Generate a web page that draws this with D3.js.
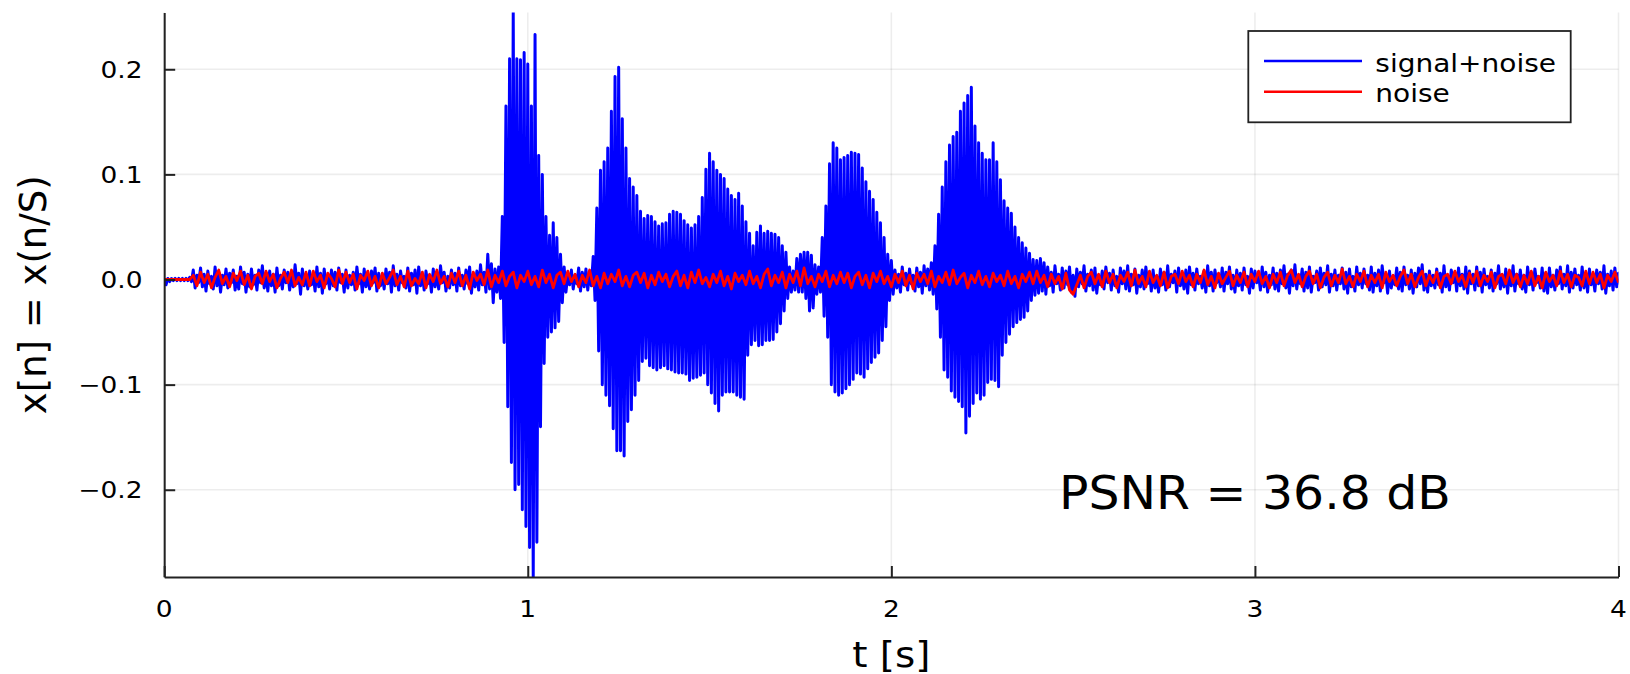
<!DOCTYPE html>
<html>
<head>
<meta charset="utf-8">
<script src="https://cdn.jsdelivr.net/npm/d3@7"></script>
<style>
  body { margin: 0; background: #fff; }
  text { font-family: 'DejaVu Sans', sans-serif; fill: #000; }
</style>
</head>
<body>
<svg id="chart" width="1630" height="674"></svg>
<script>
// samples are every 10 ms, values in units of 1e-3
const tStep = 0.01

// upper / lower swing of signal+noise in each 10 ms slot
const signalHi = [
  1, 1, 1, 1, 1, 1, 1, 2, 9, 4,
  11, 5, 8, 3, 12, 7, 4, 10, 6, 9,
  3, 12, 7, 5, 10, 4, 9, 13, 6, 8,
  5, 11, 4, 9, 7, 3, 14, 6, 10, 5,
  8, 4, 12, 6, 10, 3, 9, 7, 11, 5,
  9, 4, 7, 12, 5, 10, 3, 8, 11, 6,
  4, 10, 7, 13, 5, 8, 3, 11, 6, 9,
  12, 5, 8, 4, 10, 6, 13, 7, 3, 9,
  6, 11, 4, 9, 12, 5, 8, 14, 7, 24,
  15, 10, 12, 60, 165, 210, 254, 210, 209, 216,
  205, 165, 233, 118, 100, 60, 42, 54, 40, 24,
  12, 5, 9, 4, 11, 7, 10, 6, 22, 68,
  104, 112, 125, 160, 193, 202, 153, 125, 96, 88,
  80, 65, 58, 61, 60, 55, 51, 53, 54, 62,
  65, 64, 62, 56, 52, 49, 52, 60, 78, 105,
  120, 112, 104, 100, 96, 86, 80, 76, 82, 70,
  55, 44, 32, 45, 51, 44, 46, 44, 43, 40,
  32, 26, 12, 8, 20, 24, 26, 26, 23, 14,
  12, 40, 70, 110, 130, 125, 114, 116, 118, 121,
  120, 119, 106, 93, 84, 76, 64, 54, 40, 24,
  18, 9, 5, 12, 6, 10, 4, 11, 7, 13,
  10, 16, 32, 62, 88, 112, 128, 136, 140, 160,
  168, 175, 183, 146, 130, 120, 114, 114, 130, 112,
  95, 75, 68, 63, 50, 40, 35, 30, 25, 19,
  18, 20, 16, 12, 7, 13, 5, 11, 8, 12,
  4, 10, 7, 13, 5, 9, 11, 4, 8, 12,
  6, 9, 3, 11, 8, 13, 5, 10, 4, 9,
  12, 6, 9, 3, 10, 7, 13, 5, 8, 11,
  4, 9, 12, 6, 10, 3, 8, 13, 7, 9,
  5, 11, 7, 12, 4, 9, 6, 11, 3, 10,
  8, 5, 12, 7, 4, 11, 6, 9, 13, 5,
  9, 14, 4, 10, 7, 12, 3, 8, 11, 6,
  13, 5, 9, 4, 11, 7, 10, 3, 12, 6,
  10, 4, 12, 6, 9, 13, 5, 8, 3, 11,
  7, 12, 4, 9, 6, 11, 14, 5, 8, 4,
  10, 6, 13, 4, 9, 7, 11, 5, 12, 8,
  5, 12, 7, 10, 3, 9, 6, 13, 4, 10,
  8, 13, 5, 9, 4, 12, 7, 10, 3, 11,
  6, 11, 4, 9, 12, 5, 13, 7, 10, 4,
  12, 6, 10, 3, 9, 7, 13, 5, 8, 11,
  6,
]

const signalLo = [
  -5, -2, -1, -1, -1, -1, -1, -2, -8, -3,
  -7, -11, -4, -9, -6, -12, -5, -8, -3, -10,
  -9, -4, -12, -7, -5, -10, -3, -8, -11, -6,
  -12, -6, -9, -3, -10, -7, -4, -14, -6, -9,
  -5, -11, -7, -13, -4, -9, -6, -10, -3, -12,
  -8, -5, -10, -4, -12, -7, -9, -3, -11, -6,
  -9, -4, -12, -6, -10, -3, -8, -11, -5, -13,
  -6, -10, -4, -12, -7, -9, -3, -11, -8, -5,
  -11, -6, -9, -4, -13, -7, -10, -5, -12, -9,
  -22, -12, -18, -60, -121, -174, -200, -195, -219, -235,
  -255, -283, -250, -140, -80, -55, -50, -46, -40, -22,
  -12, -5, -9, -4, -11, -7, -10, -6, -20, -68,
  -100, -110, -120, -142, -163, -163, -168, -135, -124, -110,
  -96, -78, -75, -82, -84, -86, -84, -82, -85, -86,
  -88, -89, -89, -90, -96, -94, -93, -91, -89, -100,
  -108, -118, -125, -110, -107, -107, -107, -110, -112, -114,
  -72, -62, -58, -63, -62, -58, -58, -57, -50, -42,
  -30, -18, -12, -10, -12, -12, -18, -30, -27, -14,
  -12, -35, -55, -100, -107, -110, -108, -104, -100, -95,
  -89, -90, -93, -85, -79, -74, -70, -58, -45, -20,
  -14, -8, -12, -5, -10, -4, -11, -7, -13, -6,
  -10, -14, -28, -55, -86, -93, -106, -112, -116, -121,
  -146, -130, -118, -108, -114, -110, -98, -95, -96, -102,
  -72, -60, -52, -45, -41, -38, -36, -30, -20, -15,
  -13, -11, -14, -6, -12, -4, -10, -8, -5, -12,
  -16, -7, -4, -11, -6, -10, -13, -5, -9, -3,
  -10, -6, -12, -4, -9, -11, -5, -13, -7, -9,
  -4, -11, -8, -12, -5, -10, -7, -3, -12, -6,
  -9, -13, -5, -10, -4, -8, -12, -6, -11, -3,
  -7, -11, -4, -9, -12, -6, -10, -5, -13, -8,
  -3, -10, -7, -12, -5, -9, -11, -4, -8, -13,
  -6, -9, -4, -11, -8, -12, -3, -10, -7, -5,
  -12, -6, -10, -4, -9, -13, -7, -11, -5, -8,
  -4, -10, -12, -6, -11, -3, -13, -8, -5, -9,
  -11, -5, -9, -13, -7, -4, -10, -12, -6, -8,
  -5, -12, -7, -10, -3, -11, -6, -9, -13, -4,
  -10, -6, -12, -5, -8, -11, -4, -9, -7, -13,
  -6, -11, -4, -9, -12, -5, -10, -3, -8, -11,
  -13, -7, -10, -4, -9, -6, -12, -8, -5, -10,
  -8, -12, -5, -11, -4, -9, -13, -6, -10, -7,
  -5,
]

// the red noise trace
const noise = [
  0, 0, 0, 0, 0, 0, 0, 0, 4, -6,
  7, -3, 5, -8, 2, 9, -4, 3, -7, 6,
  -1, 8, -5, 4, -9, 3, 6, -4, 8, -2,
  5, -8, 1, 7, -3, 9, -6, 2, -5, 7,
  -6, 8, -2, 4, -8, 6, 1, -7, 9, -4,
  7, -3, 5, -9, 4, -1, 8, -6, 3, -8,
  6, -4, 2, 9, -5, 3, -7, 8, -6, 1,
  -4, 7, -8, 5, -2, 9, -4, 3, -7, 6,
  -3, 8, -6, 4, -9, 7, -1, 5, -5, 9,
  -7, 4, -3, 8, -6, 3, 7, -8, 4, -2,
  8, -5, 3, -7, 9, -3, 5, -8, 4, 7,
  -4, 8, -2, 5, -7, 4, -3, 9, -6, 3,
  -8, 6, -4, 5, -2, 9, -6, 3, -7, 4,
  7, -3, 6, -8, 4, -5, 7, -2, 5, -7,
  3, 8, -6, 4, -8, 7, -3, 9, -4, 2,
  -7, 5, -3, 8, -6, 3, -9, 6, -2, 4,
  -5, 8, -4, 3, -8, 5, 10, -6, 4, -3,
  7, -8, 5, -3, 8, -6, 11, -4, 3, -7,
  5, -2, 8, -7, 4, -4, 7, -3, 6, -8,
  3, 7, -5, 4, -8, 6, -2, 8, -4, 3,
  -7, 5, -3, 8, -6, 4, -9, 6, -2, 5,
  -4, 8, -7, 3, -3, 7, -5, 9, -4, 2,
  6, -8, 4, -3, 8, -5, 3, -7, 6, -2,
  4, -6, 8, -4, 3, -8, 5, -2, 7, -4,
  8, -3, 4, -7, 5, -4, 3, -9, 6, -10,
  -14, -5, 4, -8, 3, 7, -4, 5, -7, 8,
  -3, 5, -8, 4, -2, 7, -6, 9, -4, 3,
  -7, 8, -3, 4, -6, 7, -8, 3, 5, -4,
  8, -2, 4, -7, 5, -3, 9, -5, 3, -8,
  6, -4, 2, 8, -6, 4, -3, 7, -7, 5,
  -2, 8, -4, 3, -8, 5, -3, 7, -6, 4,
  9, -3, 5, -7, 3, 8, -4, 5, -8, 2,
  7, -6, 4, -3, 10, -4, 3, -7, 5, -2,
  8, -7, 4, -3, 5, -8, 7, -2, 4, -6,
  3, 9, -4, 5, -7, 2, 8, -6, 4, -3,
  7, -8, 3, 5, -4, 8, -2, 4, -7, 6,
  -3, 8, -6, 4, -2, 7, -8, 3, 5, -4,
  9, -3, 5, -7, 4, -4, 8, -6, 3, -8,
  7, -2, 4, -6, 8, -3, 5, -7, 4, 2,
  -6, 8, -4, 7, -3, 5, -8, 4, -2, 7,
  -3,
]

const xTicks = [0, 1, 2, 3, 4]
const yTicks = [-0.2, -0.1, 0, 0.1, 0.2]
const seriesNames = ['signal+noise', 'noise']
const seriesColors = ['#0000ff', '#ff0000']
const noteT = 3
const noteV = -0.2
const noteText = 'PSNR = 36.8 dB'

if (signalHi.length !== signalLo.length || noise.length !== signalHi.length) {
  console.warn('sample arrays differ in length', signalHi.length, signalLo.length, noise.length)
}

const svg = d3.select('#chart')
const plotLeft = 164.2
const plotRight = 1618.5
const plotTop = 12.5
const plotBottom = 577

const x = d3.scaleLinear([0, 4], [plotLeft, plotRight])
const y = d3.scaleLinear([-0.283, 0.254], [plotBottom, plotTop])

const label = (text, tx, ty, size, sx, anchor = 'middle') =>
  svg
    .append('text')
    .attr('transform', `translate(${tx},${ty}) scale(${sx},1)`)
    .attr('text-anchor', anchor)
    .style('font-size', `${size}px`)
    .text(text)

// grid
const grid = svg.append('g').attr('stroke', '#000').attr('stroke-opacity', 0.07).attr('stroke-width', 1.6)
grid
  .selectAll('.gx')
  .data(xTicks)
  .join('line')
  .attr('class', 'gx')
  .attr('x1', d => x(d))
  .attr('x2', d => x(d))
  .attr('y1', plotTop)
  .attr('y2', plotBottom)
grid
  .selectAll('.gy')
  .data(yTicks)
  .join('line')
  .attr('class', 'gy')
  .attr('x1', plotLeft)
  .attr('x2', plotRight)
  .attr('y1', d => y(d))
  .attr('y2', d => y(d))

svg
  .append('clipPath')
  .attr('id', 'plot-area')
  .append('rect')
  .attr('x', plotLeft)
  .attr('y', plotTop)
  .attr('width', plotRight - plotLeft)
  .attr('height', plotBottom - plotTop)

const plot = svg.append('g').attr('clip-path', 'url(#plot-area)')

// signal+noise drawn as a waveform: swing up to the high value, then down to the low one
const wave = signalHi.flatMap((hi, i) => [
  [i * tStep, hi / 1000],
  [(i + 0.5) * tStep, signalLo[i] / 1000],
])

const line = d3
  .line()
  .x(d => x(d[0]))
  .y(d => y(d[1]))

plot
  .append('path')
  .datum(wave)
  .attr('d', line)
  .attr('fill', 'none')
  .attr('stroke', seriesColors[0])
  .attr('stroke-width', 3)
  .attr('stroke-linejoin', 'round')

plot
  .append('path')
  .datum(noise.map((v, i) => [i * tStep, v / 1000]))
  .attr('d', line)
  .attr('fill', 'none')
  .attr('stroke', seriesColors[1])
  .attr('stroke-width', 2.8)
  .attr('stroke-linejoin', 'round')

// axes, ticks pointing inward, labels drawn separately
const xAxis = svg
  .append('g')
  .attr('transform', `translate(0,${plotBottom})`)
  .call(d3.axisBottom(x).tickValues(xTicks).tickSizeInner(-11).tickSizeOuter(0).tickFormat(''))
const yAxis = svg
  .append('g')
  .attr('transform', `translate(${plotLeft},0)`)
  .call(d3.axisLeft(y).tickValues(yTicks).tickSizeInner(-11).tickSizeOuter(0).tickFormat(''))
;[xAxis, yAxis].forEach(g => {
  g.attr('color', '#222')
  g.selectAll('path, line').attr('stroke-width', 2)
  g.selectAll('text').remove()
})

xTicks.forEach(d => label(d3.format('d')(d), x(d), 616.5, 23, 1.15))
yTicks.forEach(d => label(d3.format('.1f')(d), 142.5, y(d) + 8.4, 23, 1.15, 'end'))

label('t [s]', (plotLeft + plotRight) / 2, 666.5, 36, 1.08)
svg
  .append('text')
  .attr('transform', `translate(45.5,${(plotTop + plotBottom) / 2}) rotate(-90)`)
  .attr('text-anchor', 'middle')
  .style('font-size', '37px')
  .text('x[n] = x(n/S)')

label(noteText, x(noteT), y(noteV) + 19, 47, 1.04)

// legend
const legend = svg.append('g')
legend
  .append('rect')
  .attr('x', 1248.3)
  .attr('y', 31)
  .attr('width', 322.4)
  .attr('height', 91.3)
  .attr('fill', '#fff')
  .attr('stroke', '#222')
  .attr('stroke-width', 1.8)
seriesNames.forEach((name, i) => {
  const ly = 61 + i * 30.7
  legend
    .append('line')
    .attr('x1', 1264)
    .attr('x2', 1362)
    .attr('y1', ly)
    .attr('y2', ly)
    .attr('stroke', seriesColors[i])
    .attr('stroke-width', 2.5)
  label(name, 1375.3, ly + 10.7, 25, 1.12, 'start')
})
</script>
</body>
</html>
